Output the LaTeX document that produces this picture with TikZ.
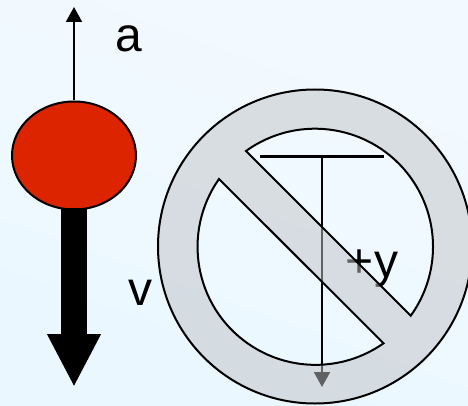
\documentclass[tikz,border=0pt]{standalone}
\usepackage{fontspec}
\setmainfont{Liberation Sans}
\usetikzlibrary{arrows.meta,shapes.geometric}
\definecolor{bgA}{RGB}{243,250,255}
\definecolor{bgB}{RGB}{234,247,255}
\definecolor{ballred}{RGB}{221,36,0}
\definecolor{ringfill}{RGB}{192,194,196}
\tikzset{
  px/.style={x=1pt,y=-1pt},
  bigtext/.style={font=\fontsize{48}{52}\selectfont,inner sep=0pt,anchor=base,text=black},
  ball/.style={ellipse,draw=black,line width=2pt,fill=ballred,minimum width=124pt,minimum height=108pt,inner sep=0pt},
  thinarrow/.style={draw=black,line width=2pt,-{Triangle[length=15pt,width=16pt]}},
  bigarrow/.style={draw=black,line width=26pt,shorten <=-3pt,-{Triangle[length=53pt,width=50pt]}},
  ring/.style={draw=black,line width=2pt,fill=ringfill,fill opacity=0.5,even odd rule}
}
\begin{document}
\begin{tikzpicture}[px]
\useasboundingbox (0,0) rectangle (468,406);
\shade[top color=bgA,bottom color=bgB,shading angle=-20] (0,0) rectangle (468,406);
\node[ball] (ballnode) at (74,155.5) {};
\coordinate (atip) at (74,7);
\coordinate (vtip) at (74,387);
\draw[thinarrow] (ballnode.north) -- (atip);
\draw[bigarrow] (ballnode.south) -- (vtip);
\node[bigtext] (alabel) at (129,52) {a};
\node[bigtext] (vlabel) at (140,305) {v};
\coordinate (barleft) at (260,156.5);
\coordinate (barright) at (384,156.5);
\coordinate (ytop) at (322,156.5);
\coordinate (ytip) at (322,387);
\draw[draw=black,line width=2.4pt] (barleft) -- (barright);
\draw[thinarrow] (ytop) -- (ytip);
\node[bigtext] (ylabel) at (372,277) {+y};
\begin{scope}[shift={(315,246.5)}]
\path[ring]
  (0,0) circle[radius=157]
  (-69,-95.5) arc[start angle=-125.8,end angle=35.8,radius=118] -- cycle
  (-96,-67.5) arc[start angle=-144.9,end angle=-305.2,radius=118] -- cycle;
\end{scope}
\end{tikzpicture}
\end{document}
